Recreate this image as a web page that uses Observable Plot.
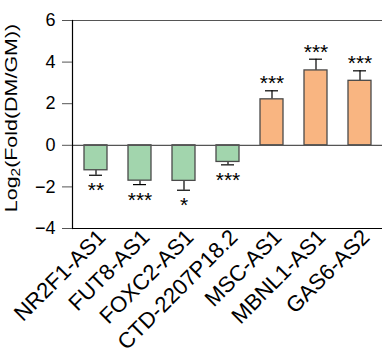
<!DOCTYPE html>
<html><head><meta charset="utf-8">
<script src="https://cdn.jsdelivr.net/npm/d3@7"></script>
<script src="https://cdn.jsdelivr.net/npm/@observablehq/plot@0.6"></script>
<style>body{margin:0;background:#fff} #chart svg{display:block}</style>
</head><body><div id="chart"></div>
<script>
const genes = ["NR2F1-AS1","FUT8-AS1","FOXC2-AS1","CTD-2207P18.2","MSC-AS1","MBNL1-AS1","GAS6-AS2"];
const values = [-1.2,-1.7,-1.71,-0.8,2.21,3.6,3.1];
const errors = [0.24,0.19,0.45,0.14,0.41,0.54,0.48];
const stars = ["**","***","*","***","***","***","***"];
const yTicks = [-4,-2,0,2,4,6];

const data = genes.map((g,i)=>({gene:g, value:values[i], tip: values[i] + Math.sign(values[i])*errors[i], stars:stars[i], dir: values[i] < 0 ? "down" : "up"}));
const green="#a2d5ad", orange="#f9b581";
const font = "Liberation Sans, Arial, sans-serif";

const plot = Plot.plot({
  width:382, height:357, marginLeft:72, marginTop:20, marginBottom:129, marginRight:0,
  style:{fontFamily:font, background:"#fff", overflow:"visible", color:"#000"},
  x:{domain:genes, range:[72,384], paddingInner:0.475, paddingOuter:0.23, label:null},
  y:{domain:[-4,6], range:[228,20], label:null},
  color:{domain:["down","up"], range:[green, orange]},
  marks:[
    Plot.ruleY([6], {stroke:"#555", strokeWidth:1.2}),
    Plot.ruleX(data, {x:"gene", y1:"value", y2:"tip", stroke:"#000", strokeWidth:1.2}),
    Plot.tickY(data, {x:"gene", y:"tip", stroke:"#000", strokeWidth:1.2, insetLeft:5, insetRight:5}),
    Plot.barY(data, {x:"gene", y:"value", fill:"dir", stroke:"#4a4a4a", strokeWidth:1.3}),
    Plot.ruleY([0], {stroke:"#555", strokeWidth:1.2}),
    Plot.ruleY([-4], {stroke:"#000", strokeWidth:1.2}),
    Plot.frame({anchor:"left", stroke:"#000", strokeWidth:1.2}),
    Plot.text(data.filter(d=>d.value<0), {x:"gene", y:"tip", text:"stars", lineAnchor:"bottom", dy:22, fontSize:21, fill:"#000"}),
    Plot.text(data.filter(d=>d.value>0), {x:"gene", y:"tip", text:"stars", lineAnchor:"bottom", dy:-0.5, fontSize:21, fill:"#000"}),
    Plot.axisY({ticks:yTicks, tickSize:10, tickPadding:7, fontSize:18, label:null, stroke:"#555"}),
    Plot.axisX({tickRotate:-45, tickSize:0, tickPadding:5, dx:6, fontSize:22, label:null})
  ]
});
const svg = d3.select(plot);
const t = svg.append("text")
  .attr("transform","translate(17,118) rotate(-90) scale(1.1,0.85)")
  .attr("text-anchor","middle")
  .attr("font-family",font)
  .attr("font-size",19.5)
  .attr("fill","#000");
t.append("tspan").text("Log");
t.append("tspan").attr("font-size",14).attr("dy",4).text("2");
t.append("tspan").attr("dy",-4).text("(Fold(DM/GM))");
document.getElementById("chart").appendChild(plot);
</script>
</body></html>
